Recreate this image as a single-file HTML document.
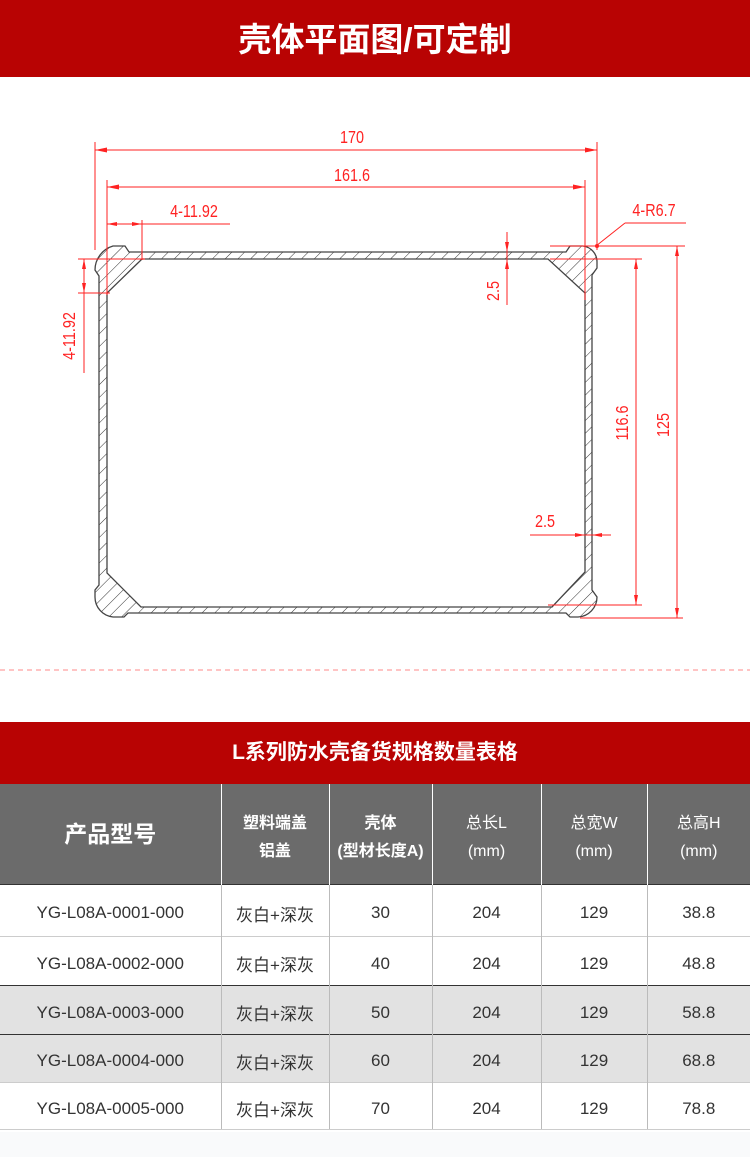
<!DOCTYPE html>
<html><head><meta charset="utf-8"><style>
body{margin:0;width:750px;height:1157px;background:#fff;font-family:"Liberation Sans","Noto Sans CJK SC",sans-serif;position:relative;overflow:hidden}
.bar{position:absolute;left:0;width:750px;background:#b80303;color:#fff;text-align:center;font-weight:bold}
table{position:absolute;left:0;top:784px;width:750px;border-collapse:collapse;table-layout:fixed}
td{text-align:center;color:#333;border-left:1px solid #bbb;font-size:17px;padding:6px 0 0 0}
td:first-child{border-left:none}
th{background:#6b6b6b;color:#fff;border-left:1px solid #fff;font-weight:bold;font-size:16px;line-height:28px;height:100px;padding:8px 0 0 0;box-sizing:border-box}
th:first-child{border-left:none;font-size:23px;padding-top:0}
tr.r td{border-top:1px solid #ccc}
tr.g td{background:#e2e2e2}
tr.d td{border-top:1.5px solid #333}
</style></head><body>
<div class="bar" style="top:0;height:77px;line-height:80px;font-size:33px">壳体平面图/可定制</div>
<svg style="position:absolute;left:0;top:0" width="750" height="700">
<defs><pattern id="h" patternUnits="userSpaceOnUse" width="9" height="9" patternTransform="rotate(45)"><line x1="0" y1="0" x2="0" y2="9" stroke="#333" stroke-width="1"/></pattern></defs>
<path fill-rule="evenodd" fill="url(#h)" stroke="#444" stroke-width="1.3" d="M113,246 L125,246 L129,252 L566,252 L570,246 L583,246 A16,16 0 0 1 597,262 L597,268 L592,275 L592,590 L597,597 A20,20 0 0 1 578,617 L570,617 L566,613 L128,613 L124,617 L113,617 A20,20 0 0 1 95,597 L95,590 L99,585 L99,276 L95,270 A25,25 0 0 1 113,246 Z M142,259 L548,259 L585,293 L585,572 L552,607 L141,607 L107,573 L107,293 Z"/>
<g stroke="#f22" stroke-width="1" fill="none">
<line x1="95" y1="142" x2="95" y2="250"/><line x1="597" y1="142" x2="597" y2="250"/>
<line x1="95" y1="150" x2="597" y2="150"/>
<line x1="107" y1="180" x2="107" y2="295"/><line x1="585" y1="180" x2="585" y2="300"/>
<line x1="107" y1="187" x2="585" y2="187"/>
<line x1="142" y1="220" x2="142" y2="260"/>
<line x1="107" y1="224" x2="230" y2="224"/>
<line x1="78" y1="259" x2="145" y2="259"/><line x1="78" y1="293" x2="110" y2="293"/>
<line x1="84" y1="259" x2="84" y2="373"/>
<line x1="507" y1="232" x2="507" y2="305"/>
<line x1="596" y1="246" x2="625" y2="223"/><line x1="625" y1="223" x2="686" y2="223"/>
<line x1="550" y1="246" x2="685" y2="246"/><line x1="550" y1="259" x2="642" y2="259"/>
<line x1="636" y1="259" x2="636" y2="605"/><line x1="677" y1="246" x2="677" y2="618"/>
<line x1="548" y1="605" x2="642" y2="605"/><line x1="580" y1="618" x2="683" y2="618"/>
<line x1="530" y1="535" x2="611" y2="535"/>
</g>
<g fill="#f22">
<path d="M95,150 l12,-2.5 v5z M597,150 l-12,-2.5 v5z M107,187 l12,-2.5 v5z M585,187 l-12,-2.5 v5z M107,224 l10,-2 v4z M142,224 l-10,-2 v4z M84,259 l-2,10 h4z M84,293 l-2,-10 h4z M507,252 l-2,-10 h4z M507,259 l-2,10 h4z M636,259 l-2,10 h4z M636,605 l-2,-10 h4z M677,246 l-2,10 h4z M677,618 l-2,-10 h4z M585,535 l-10,-2 v4z M592,535 l10,-2 v4z"/>
<circle cx="597" cy="246" r="2"/>
</g>
<g fill="#f22" font-family="Liberation Sans,sans-serif" font-size="18">
<text x="352" y="143" text-anchor="middle" transform="translate(352 0) scale(0.8 1) translate(-352 0)">170</text>
<text x="352" y="181" text-anchor="middle" transform="translate(352 0) scale(0.8 1) translate(-352 0)">161.6</text>
<text x="194" y="217" text-anchor="middle" transform="translate(194 0) scale(0.8 1) translate(-194 0)">4-11.92</text>
<text x="654" y="216" text-anchor="middle" transform="translate(654 0) scale(0.8 1) translate(-654 0)">4-R6.7</text>
<text x="545" y="527" text-anchor="middle" transform="translate(545 0) scale(0.8 1) translate(-545 0)">2.5</text>
<text transform="translate(75 336) rotate(-90) scale(0.8 1)" text-anchor="middle">4-11.92</text>
<text transform="translate(499 291) rotate(-90) scale(0.8 1)" text-anchor="middle">2.5</text>
<text transform="translate(628 423) rotate(-90) scale(0.8 1)" text-anchor="middle">116.6</text>
<text transform="translate(669 425) rotate(-90) scale(0.8 1)" text-anchor="middle">125</text>
</g>
<line x1="0" y1="670" x2="750" y2="670" stroke="#f88" stroke-width="1" stroke-dasharray="5,4"/>
</svg>
<div class="bar" style="top:722px;height:62px;line-height:62px;font-size:21px">L系列防水壳备货规格数量表格</div>
<table>
<colgroup><col style="width:221px"><col style="width:108px"><col style="width:103px"><col style="width:109px"><col style="width:106px"><col style="width:103px"></colgroup>
<tr><th>产品型号</th><th>塑料端盖<br>铝盖</th><th>壳体<br>(型材长度A)</th><th style="font-weight:normal">总长L<br>(mm)</th><th style="font-weight:normal">总宽W<br>(mm)</th><th style="font-weight:normal">总高H<br>(mm)</th></tr>
<tr style="height:52px" class="d"><td>YG-L08A-0001-000</td><td>灰白+深灰</td><td>30</td><td>204</td><td>129</td><td>38.8</td></tr>
<tr style="height:49px" class="r"><td>YG-L08A-0002-000</td><td>灰白+深灰</td><td>40</td><td>204</td><td>129</td><td>48.8</td></tr>
<tr style="height:49px" class="g d"><td>YG-L08A-0003-000</td><td>灰白+深灰</td><td>50</td><td>204</td><td>129</td><td>58.8</td></tr>
<tr style="height:48px" class="g d"><td>YG-L08A-0004-000</td><td>灰白+深灰</td><td>60</td><td>204</td><td>129</td><td>68.8</td></tr>
<tr style="height:47px" class="r"><td style="border-bottom:1px solid #ccc">YG-L08A-0005-000</td><td style="border-bottom:1px solid #ccc">灰白+深灰</td><td style="border-bottom:1px solid #ccc">70</td><td style="border-bottom:1px solid #ccc">204</td><td style="border-bottom:1px solid #ccc">129</td><td style="border-bottom:1px solid #ccc">78.8</td></tr>
</table>
<div style="position:absolute;left:0;top:1132px;width:750px;height:25px;background:#f9fafb"></div>
</body></html>
